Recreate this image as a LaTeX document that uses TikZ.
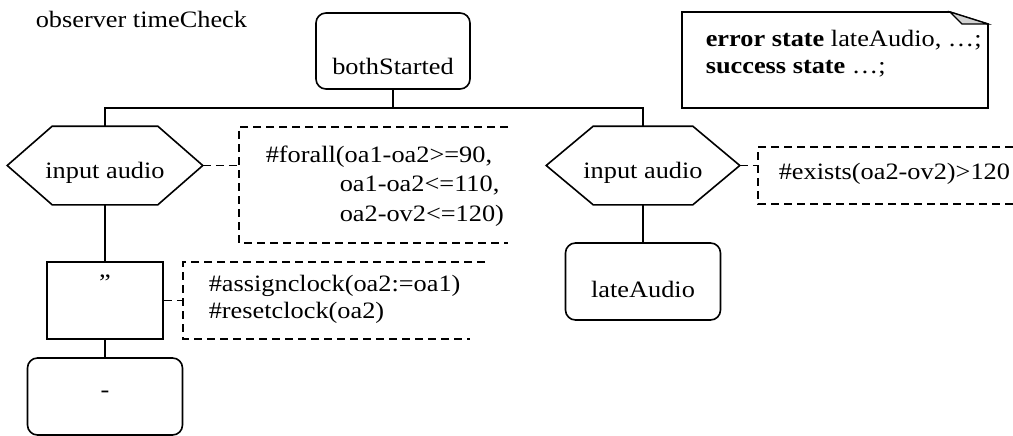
\documentclass[tikz,border=0pt]{standalone}
\usepackage{fontspec}
\setmainfont{Liberation Serif}[FakeStretch=1.12]
\usetikzlibrary{calc}
\begin{document}
\begin{tikzpicture}[x=1pt,y=-1pt,line width=1.6pt,
  every node/.style={font=\fontsize{23.5}{28}\selectfont,inner sep=0pt},
  statebox/.style={draw,rounded corners=10pt,minimum width=155pt,minimum height=77pt},
  taskbox/.style={draw,minimum width=116pt,minimum height=77pt},
  hexbox/.style={minimum width=194pt,minimum height=77pt},
  label/.style={anchor=base},
  ltext/.style={anchor=base west},
  commentline/.style={dash pattern=on 8pt off 5pt}]
\useasboundingbox (0,0) rectangle (1013,436);

% title
\node[ltext] (title) at (35,28) {observer timeCheck};

% start state
\node[statebox,minimum width=154pt,minimum height=76pt] (start) at (393,51) {};
\node[label] (startlbl) at (393,75) {bothStarted};

% the two input signals
\node[hexbox] (in1) at (105,165.5) {};
\node[hexbox,minimum width=192pt] (in2) at (643,165.5) {};
\foreach \h/\p in {in1/45,in2/47}{
  \draw ($(\h.west)$) -- ($(\h.north west)+(\p,0)$) -- ($(\h.north east)+(-\p,0)$)
        -- ($(\h.east)$) -- ($(\h.south east)+(-\p,0)$) -- ($(\h.south west)+(\p,0)$) -- cycle;
}
\node[label] (in1lbl) at (105,178) {input audio};
\node[label] (in2lbl) at (643,178) {input audio};

% branch lines
\coordinate (split) at (393,108);
\draw (start.south) -- (split);
\draw (in1.north) |- (split) -| (in2.north);

% left branch: task and next state
\node[taskbox] (task) at (105,300.5) {};
\node[label] (tasklbl) at (105,290) {”};
\node[statebox] (next) at (105,396.5) {};
\node[label] (nextlbl) at (105,397) {-};
\draw (in1.south) -- (task.north);
\draw (task.south) -- (next.north);

% right branch: error state
\node[statebox] (late) at (643,281.5) {};
\node[label] (latelbl) at (643,297) {lateAudio};
\draw (in2.south) -- (late.north);

% comment on the first input
\coordinate (c1) at (239,165.5);
\draw[commentline] (508,127) -| (239,243) -- (508,243);
\draw[commentline] (in1.east) -- (c1);
\node[ltext] (c1a) at (265,162) {\#forall(oa1-oa2>=90,};
\node[ltext] (c1b) at (339,191) {oa1-oa2<=110,};
\node[ltext] (c1c) at (339,221) {oa2-ov2<=120)};

% comment on the task
\coordinate (c2) at (183,300.5);
\draw[commentline] (485,262) -| (183,339) -- (470,339);
\draw[commentline] (task.east) -- (c2);
\node[ltext] (c2a) at (208,291) {\#assignclock(oa2:=oa1)};
\node[ltext] (c2b) at (208,318) {\#resetclock(oa2)};

% comment on the second input
\coordinate (c3) at (758,165.5);
\draw[commentline] (1013,147) -| (758,204) -- (1013,204);
\draw[commentline] (in2.east) -- (c3);
\node[ltext] (c3a) at (778,179) {\#exists(oa2-ov2)>120};

% text symbol with folded corner
\coordinate (nA) at (682,12);
\coordinate (nB) at (950,12);
\coordinate (nC) at (988,24);
\coordinate (nD) at (988,108);
\coordinate (nE) at (682,108);
\draw (nA) -- (nB) -- (nC) -- (nD) -- (nE) -- cycle;
\draw[fill=gray!35,line width=1.2pt] (nB) -- (962,24) -- (nC) -- cycle;
\node[ltext] (noteA) at (705,47) {\textbf{error state} lateAudio, …;};
\node[ltext] (noteB) at (705,74) {\textbf{success state} …;};
\end{tikzpicture}
\end{document}
